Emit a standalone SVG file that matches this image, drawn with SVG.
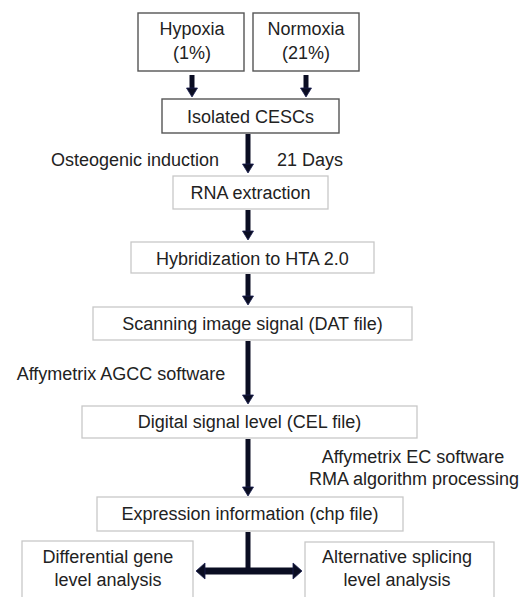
<svg xmlns="http://www.w3.org/2000/svg" width="519" height="597" viewBox="0 0 519 597">
<style>
text{font-family:"Liberation Sans",Arial,sans-serif;font-size:18px;fill:#222;text-anchor:middle}
.dark{fill:#fff;stroke:#555;stroke-width:1.4}
.light{fill:#fff;stroke:#c8c8c8;stroke-width:1.3}
.shaft{stroke:#0a0d22;stroke-width:5;fill:none}
.head{fill:#0a0d22;stroke:#1a2050;stroke-width:0.8}
</style>
<rect width="519" height="597" fill="#fff"/>
<g id="hypoxia"><rect class="dark" x="138" y="13" width="106" height="58"/><text x="192" y="35">Hypoxia</text><text x="192" y="59">(1%)</text></g>
<g id="normoxia"><rect class="dark" x="253" y="13" width="106" height="58"/><text x="306" y="35">Normoxia</text><text x="306" y="59">(21%)</text></g>
<g id="cescs"><rect class="dark" x="162" y="99" width="177" height="34"/><text x="250.5" y="123">Isolated CESCs</text></g>
<g id="rna"><rect class="light" x="173" y="176" width="155" height="33"/><text x="250.5" y="199">RNA extraction</text></g>
<g id="hyb"><rect class="light" x="131" y="242" width="243" height="31"/><text x="252.5" y="265">Hybridization to HTA 2.0</text></g>
<g id="scan"><rect class="light" x="93" y="307" width="319" height="33"/><text x="252.5" y="330">Scanning image signal (DAT file)</text></g>
<g id="digital"><rect class="light" x="82" y="406" width="335" height="32"/><text x="249.5" y="428">Digital signal level (CEL file)</text></g>
<g id="expr"><rect class="light" x="97" y="497" width="306" height="34"/><text x="250" y="520">Expression information (chp file)</text></g>
<g id="diff"><rect class="light" x="22" y="541" width="171" height="70"/><text x="108" y="563">Differential gene</text><text x="108" y="586">level analysis</text></g>
<g id="alt"><rect class="light" x="305" y="542" width="189" height="70"/><text x="397" y="563">Alternative splicing</text><text x="397" y="586">level analysis</text></g>
<g id="labels">
<text x="135" y="166">Osteogenic induction</text>
<text x="310" y="166">21 Days</text>
<text x="121" y="380">Affymetrix AGCC software</text>
<text x="413" y="463">Affymetrix EC software</text>
<text x="414" y="485">RMA algorithm processing</text>
</g>
<g id="connectors">
<line class="shaft" x1="192" y1="75" x2="192" y2="89"/><polygon class="head" points="186.5,88 197.5,88 192,97"/>
<line class="shaft" x1="306" y1="75" x2="306" y2="89"/><polygon class="head" points="300.5,88 311.5,88 306,97"/>
<line class="shaft" x1="248" y1="134" x2="248" y2="165"/><polygon class="head" points="242.5,164 253.5,164 248,173"/>
<line class="shaft" x1="248" y1="210" x2="248" y2="232"/><polygon class="head" points="242.5,231 253.5,231 248,240"/>
<line class="shaft" x1="248" y1="274" x2="248" y2="297"/><polygon class="head" points="242.5,296 253.5,296 248,305"/>
<line class="shaft" x1="248" y1="341" x2="248" y2="396"/><polygon class="head" points="242.5,395 253.5,395 248,404"/>
<line class="shaft" x1="248" y1="439" x2="248" y2="488"/><polygon class="head" points="242.5,487 253.5,487 248,496"/>
<line class="shaft" x1="248" y1="532" x2="248" y2="571"/>
<line x1="204" y1="571" x2="294" y2="571" stroke="#0a0d22" stroke-width="7"/>
<polygon class="head" points="196,571 205,563 205,579"/>
<polygon class="head" points="302,571 293,563 293,579"/>
</g>
</svg>
